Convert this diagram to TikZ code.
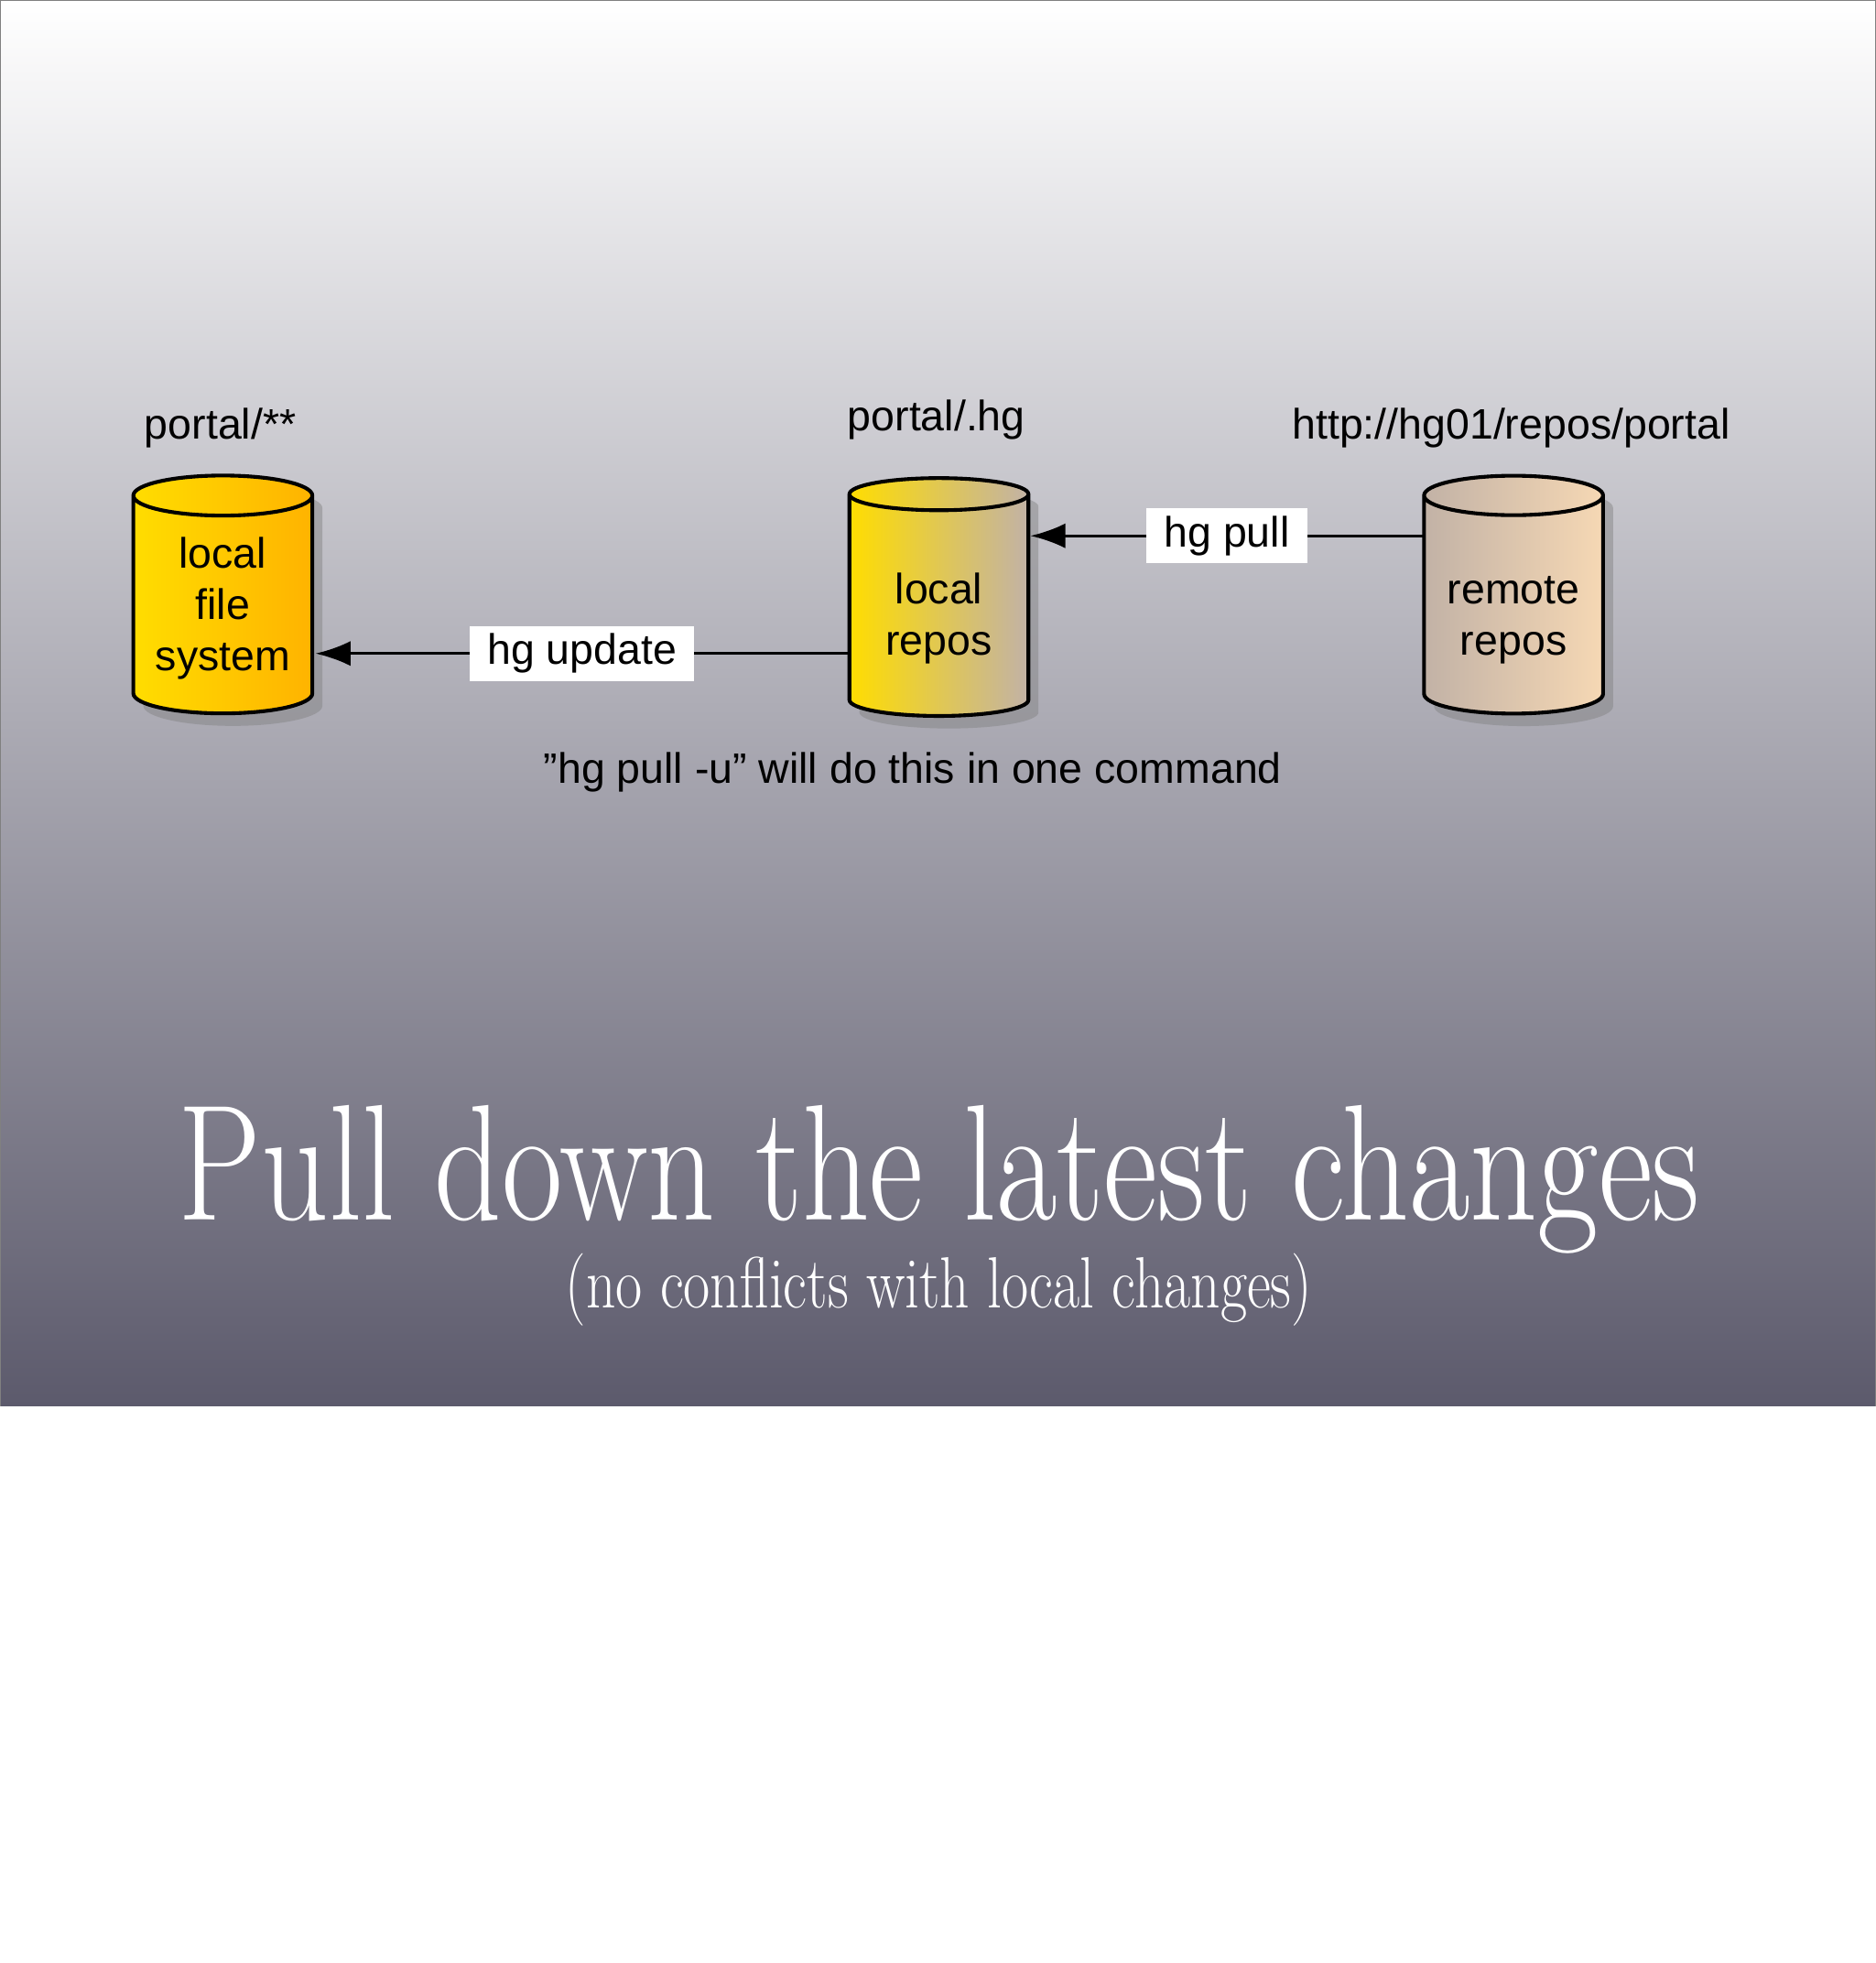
\documentclass[tikz,border=0pt]{standalone}
\usepackage{fontspec}
\setmainfont{Liberation Sans}
\newfontfamily\titlefont{Latin Modern Roman}
\usetikzlibrary{shapes.geometric,shadows,arrows.meta,positioning}
\definecolor{bgtop}{HTML}{FFFFFF}
\definecolor{bgbot}{HTML}{5C5A6C}
\definecolor{gold}{HTML}{FFDD00}
\definecolor{amber}{HTML}{FFB300}
\definecolor{tan}{HTML}{C2B2A6}
\definecolor{peach}{HTML}{F6D8B4}
\tikzset{
  repo/.style={cylinder, shape border rotate=90, draw, line width=3pt,
    minimum width=143pt, minimum height=190pt, aspect=0.28, align=center,
    font=\fontsize{34}{41}\selectfont,
    drop shadow={shadow xshift=8pt, shadow yshift=-10pt, opacity=.45}},
  cmd/.style={fill=white, inner xsep=14pt, inner ysep=6pt, font=\fontsize{34}{41}\selectfont},
  path/.style={font=\fontsize{34}{41}\selectfont},
  flow/.style={line width=2.5pt, -{Latex[length=28pt,width=20pt]}}
}
\begin{document}
\begin{tikzpicture}[x=1pt,y=-1pt]
        % --- background ---
        \useasboundingbox (0,0) rectangle (1498,1568);
        \fill[white] (0,0) rectangle (1498,1568);
        \shade[top color=bgtop, bottom color=bgbot] (0,0) rectangle (1498,1123);
        \draw[gray, line width=1pt] (0,1123) -- (0,0) -- (1498,0) -- (1498,1123);
        % ---

        % --- repositories ---
        \node[repo, left color=gold, right color=amber] (fs) at (178,486) {local\\file\\system};
        \node[repo, left color=gold, right color=tan] (lrepo) at (750,486) {\\local\\repos};
        \node[repo, left color=tan, right color=peach] (rrepo) at (1209,486) {\\remote\\repos};
        \node[path] (fspath) at (176,342) {portal/**};
        \node[path] (lpath) at (748,335) {portal/.hg};
        \node[path] (rpath) at (1207,342) {http://hg01/repos/portal};
        % ---

        % --- commands ---
        \coordinate (pullsrc) at (1137,428);
        \coordinate (pulldst) at (823,428);
        \coordinate (updsrc) at (678,522);
        \coordinate (upddst) at (252,522);
        \draw[flow] (pullsrc) -- (pulldst) node[cmd, pos=0.5] (pull) {hg pull};
        \draw[flow] (updsrc) -- (upddst) node[cmd, pos=0.5] (update) {hg update};
        \node[path] (note) at (729,617) {\symbol{34}hg pull -u\symbol{34} will do this in one command};
        % ---

        % --- title ---
        \node[white, xscale=0.8, font=\titlefont\fontsize{132}{132}\selectfont] (title) at (750,942) {Pull down the latest changes};
        \node[white, xscale=0.8, font=\titlefont\fontsize{58}{58}\selectfont] (subtitle) at (750,1030) {(no conflicts with local changes)};
        % ---
    \end{tikzpicture}
\end{document}
